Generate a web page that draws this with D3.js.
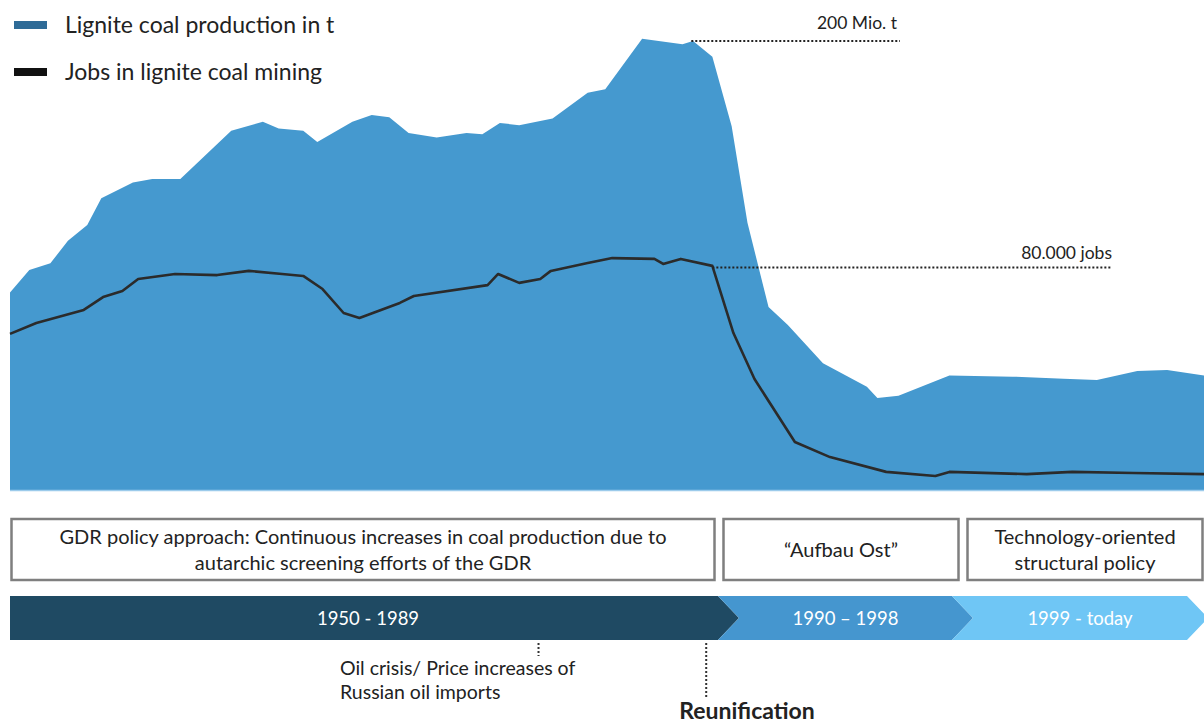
<!DOCTYPE html>
<html><head><meta charset="utf-8">
<script src="https://cdn.jsdelivr.net/npm/d3@7"></script>
<style>body{margin:0;background:#fff}svg{display:block}text{font-family:Lato,"Open Sans",sans-serif}</style>
</head><body><svg id="c" width="1204" height="725"></svg>
<script>
const prodYears = [1950,1951.1,1952.3,1953.3,1954.4,1955.2,1957,1958.1,1959.7,1962.6,1964.4,1965.3,1966.7,1967.5,1969.5,1970.6,1971.6,1972.7,1974.3,1976,1976.9,1977.9,1979,1980.9,1982.9,1983.9,1986,1988.3,1988.9,1990,1991.1,1992,1993.2,1994.3,1996.3,1998.8,1999.4,2000.6,2003.5,2007.1,2010,2011.9,2014.2,2015.9,2018];
const prodValues = [88,98,101,111,118,130,137,138.5,138.5,160,164,161,160,155,164,167,166,159,157,159,158.5,163.5,162.5,165.5,177,178.5,201,198.5,200,193,162,119,81.5,73.5,56.5,46,41,42,51,50.5,49.5,49,53,53.5,51];
const jobsYears = [1950,1951.5,1954.2,1955.3,1956.4,1957.3,1959.4,1961.8,1963.6,1965.5,1966.7,1967.8,1969,1969.9,1972.2,1973,1977.2,1977.8,1979,1980.2,1980.8,1982.9,1984.3,1986.7,1987.2,1988.2,1990,1991.2,1992.4,1994.7,1996.7,1999.9,2002.7,2003.5,2007.9,2010.5,2014,2018];
const jobsValues = [56000,59900,64600,69200,71400,75700,77500,77100,78600,77500,76800,72100,63500,61700,67100,69600,73500,77500,74300,75700,78600,81400,83200,82900,81100,82900,80400,56300,39800,17200,11800,6500,5000,6500,5700,6500,6100,5700];
const legendLabels = ["Lignite coal production in t","Jobs in lignite coal mining"];
const refProd = 200, refProdLabel = "200 Mio. t";
const refJobs = 80000, refJobsLabel = "80.000 jobs";
const policyBoxes = [
  {lines:["GDR policy approach: Continuous increases in coal production due to","autarchic screening efforts of the GDR"], x0:10, x1:716},
  {lines:["\u201CAufbau Ost\u201D"], x0:722, x1:960},
  {lines:["Technology-oriented","structural policy"], x0:966, x1:1204}
];
const periods = [
  {label:"1950 - 1989", x0:10, x1:718, color:"#1f4a63"},
  {label:"1990 \u2013 1998", x0:718, x1:952, color:"#4596cf"},
  {label:"1999 - today", x0:952, x1:1187, color:"#6fc6f5"}
];
const events = [
  {year:1980.1, lines:["Oil crisis/ Price increases of","Russian oil imports"], bold:false},
  {year:1989.65, lines:["Reunification"], bold:true}
];

(function(){
const svg = d3.select("#c");
const x = d3.scaleLinear().domain([1950,2018]).range([10,1204]);
const yP = d3.scaleLinear().domain([0,200]).range([490,41]);
const yJ = d3.scaleLinear().domain([0,80000]).range([490,267]);

const prod = prodYears.map((y,i)=>({y, v:prodValues[i]}));
const jobs = jobsYears.map((y,i)=>({y, v:jobsValues[i]}));

svg.append("path").datum(prod)
  .attr("d", d3.area().x(d=>x(d.y)).y0(yP(0)).y1(d=>yP(d.v)))
  .attr("fill","#4599cf");
svg.append("line").attr("x1",x(1950)).attr("x2",x(2018)).attr("y1",yP(0)+0.5).attr("y2",yP(0)+0.5)
  .attr("stroke","#9ccbeb").attr("stroke-width",1.5);
svg.append("path").datum(jobs)
  .attr("d", d3.line().x(d=>x(d.y)).y(d=>yJ(d.v)))
  .attr("fill","none").attr("stroke","#2b2b2b").attr("stroke-width",2.6).attr("stroke-linejoin","round");

svg.append("line").attr("x1",x(1988.8)).attr("x2",900).attr("y1",yP(refProd)).attr("y2",yP(refProd))
  .attr("stroke","#222").attr("stroke-width",2).attr("stroke-dasharray","2,2");
svg.append("text").attr("x",897).attr("y",yP(refProd)-12).attr("text-anchor","end")
  .attr("font-size",17.5).attr("fill","#222").text(refProdLabel);
svg.append("line").attr("x1",x(1990)).attr("x2",1112).attr("y1",yJ(refJobs)+0.5).attr("y2",yJ(refJobs)+0.5)
  .attr("stroke","#222").attr("stroke-width",2).attr("stroke-dasharray","2,2");
svg.append("text").attr("x",1112).attr("y",yJ(refJobs)-8).attr("text-anchor","end")
  .attr("font-size",17.5).attr("fill","#222").text(refJobsLabel);

const lg = svg.append("g");
[["#2e6b97",25],["#111",72]].forEach((s,i)=>{
  lg.append("rect").attr("x",14).attr("y",s[1]-4).attr("width",33).attr("height",8).attr("fill",s[0]);
  lg.append("text").attr("x",65).attr("y",s[1]+8).attr("font-size",23).attr("fill","#222").text(legendLabels[i]);
});

policyBoxes.forEach(b=>{
  svg.append("rect").attr("x",b.x0+1.5).attr("y",519).attr("width",b.x1-b.x0-3).attr("height",61)
    .attr("fill","#fff").attr("stroke","#7f7f7f").attr("stroke-width",2.5);
  const cx=(b.x0+b.x1)/2;
  const n=b.lines.length;
  b.lines.forEach((t,i)=>{
    svg.append("text").attr("x",cx).attr("y",550+(i-(n-1)/2)*26+7).attr("text-anchor","middle")
      .attr("font-size",20).attr("fill","#222").text(t);
  });
});

const bandTop=596, bandBot=640, bandMid=618, tip=21;
periods.forEach((p,i)=>{
  const pts = [[p.x0,bandTop],[p.x1,bandTop],[p.x1+tip,bandMid],[p.x1,bandBot],[p.x0,bandBot]];
  if(i>0) pts.push([p.x0+tip,bandMid]);
  svg.append("polygon").attr("points",pts.map(q=>q.join(",")).join(" ")).attr("fill",p.color);
  const cx = i===0 ? 368 : (p.x0+p.x1)/2+tip/2;
  svg.append("text").attr("x",cx).attr("y",bandMid+7).attr("text-anchor","middle")
    .attr("font-size",18.5).attr("fill","#fff").text(p.label);
});

events.forEach(e=>{
  const ex = x(e.year);
  if(!e.bold){
    svg.append("line").attr("x1",ex).attr("x2",ex).attr("y1",643).attr("y2",656)
      .attr("stroke","#333").attr("stroke-width",2).attr("stroke-dasharray","2,2");
    e.lines.forEach((t,i)=>svg.append("text").attr("x",340).attr("y",675+i*24)
      .attr("font-size",19.5).attr("fill","#222").text(t));
  } else {
    svg.append("line").attr("x1",ex).attr("x2",ex).attr("y1",643).attr("y2",697)
      .attr("stroke","#333").attr("stroke-width",2).attr("stroke-dasharray","2,2");
    svg.append("text").attr("x",747).attr("y",719).attr("text-anchor","middle")
      .attr("font-size",23).attr("font-weight","bold").attr("fill","#222").text(e.lines[0]);
  }
});
})();
</script></body></html>
